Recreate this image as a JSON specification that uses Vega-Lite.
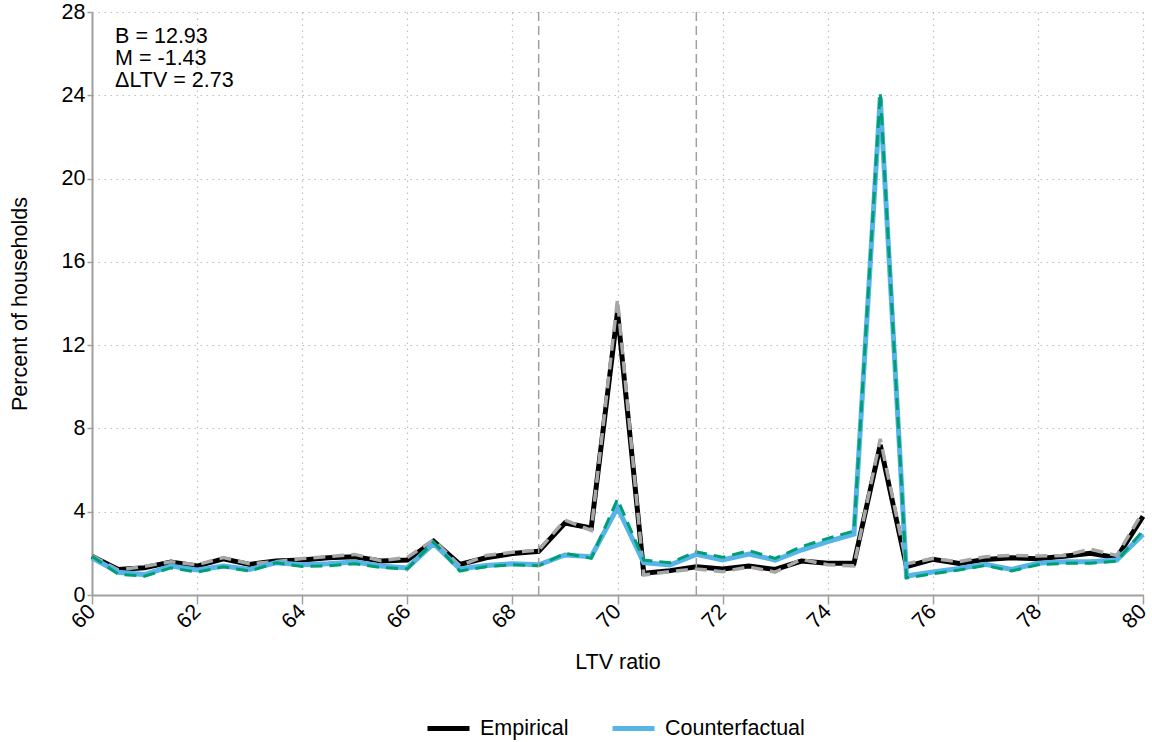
{
  "$schema": "https://vega.github.io/schema/vega-lite/v6.json",
  "autosize": {"type": "none"},
  "padding": {"left": 92, "top": 12, "right": 9, "bottom": 147},
  "width": 1051,
  "height": 583,
  "background": "white",
  "config": {
    "font": "Liberation Sans",
    "view": {"stroke": null},
    "axis": {
      "domainColor": "#A0A0A0",
      "domainWidth": 2,
      "tickColor": "#A0A0A0",
      "tickWidth": 1.5,
      "labelColor": "#000000",
      "titleColor": "#000000",
      "labelFontSize": 21.5,
      "titleFontSize": 21.5,
      "titleFontWeight": "normal",
      "labelFont": "Liberation Sans",
      "titleFont": "Liberation Sans",
      "gridColor": "#BDBDBD",
      "gridDash": [1.5, 4.5],
      "gridWidth": 1.2
    },
    "legend": {
      "labelFont": "Liberation Sans",
      "labelFontSize": 21.5,
      "labelColor": "#000000"
    }
  },
  "datasets": {
    "dist": [
      {"ltv": 60, "Empirical": 1.86, "EmpiricalAlt": 1.9, "Counterfactual": 1.79, "CounterfactualAlt": 1.86},
      {"ltv": 60.5, "Empirical": 1.23, "EmpiricalAlt": 1.2, "Counterfactual": 1.09, "CounterfactualAlt": 1.0},
      {"ltv": 61, "Empirical": 1.31, "EmpiricalAlt": 1.38, "Counterfactual": 0.98, "CounterfactualAlt": 0.9},
      {"ltv": 61.5, "Empirical": 1.58, "EmpiricalAlt": 1.6, "Counterfactual": 1.39, "CounterfactualAlt": 1.3},
      {"ltv": 62, "Empirical": 1.39, "EmpiricalAlt": 1.45, "Counterfactual": 1.2, "CounterfactualAlt": 1.1},
      {"ltv": 62.5, "Empirical": 1.74, "EmpiricalAlt": 1.8, "Counterfactual": 1.39, "CounterfactualAlt": 1.35},
      {"ltv": 63, "Empirical": 1.47, "EmpiricalAlt": 1.5, "Counterfactual": 1.23, "CounterfactualAlt": 1.15},
      {"ltv": 63.5, "Empirical": 1.63, "EmpiricalAlt": 1.6, "Counterfactual": 1.55, "CounterfactualAlt": 1.55},
      {"ltv": 64, "Empirical": 1.68, "EmpiricalAlt": 1.75, "Counterfactual": 1.45, "CounterfactualAlt": 1.37},
      {"ltv": 64.5, "Empirical": 1.79, "EmpiricalAlt": 1.85, "Counterfactual": 1.5, "CounterfactualAlt": 1.4},
      {"ltv": 65, "Empirical": 1.84, "EmpiricalAlt": 1.95, "Counterfactual": 1.58, "CounterfactualAlt": 1.5},
      {"ltv": 65.5, "Empirical": 1.63, "EmpiricalAlt": 1.65, "Counterfactual": 1.39, "CounterfactualAlt": 1.32},
      {"ltv": 66, "Empirical": 1.68, "EmpiricalAlt": 1.8, "Counterfactual": 1.3, "CounterfactualAlt": 1.25},
      {"ltv": 66.5, "Empirical": 2.58, "EmpiricalAlt": 2.65, "Counterfactual": 2.47, "CounterfactualAlt": 2.55},
      {"ltv": 67, "Empirical": 1.47, "EmpiricalAlt": 1.4, "Counterfactual": 1.25, "CounterfactualAlt": 1.15},
      {"ltv": 67.5, "Empirical": 1.79, "EmpiricalAlt": 1.9, "Counterfactual": 1.42, "CounterfactualAlt": 1.36},
      {"ltv": 68, "Empirical": 1.99, "EmpiricalAlt": 2.05, "Counterfactual": 1.5, "CounterfactualAlt": 1.45},
      {"ltv": 68.5, "Empirical": 2.1, "EmpiricalAlt": 2.15, "Counterfactual": 1.45, "CounterfactualAlt": 1.4},
      {"ltv": 69, "Empirical": 3.46, "EmpiricalAlt": 3.6, "Counterfactual": 1.92, "CounterfactualAlt": 2.0},
      {"ltv": 69.5, "Empirical": 3.22, "EmpiricalAlt": 3.1, "Counterfactual": 1.84, "CounterfactualAlt": 1.76},
      {"ltv": 70, "Empirical": 13.6, "EmpiricalAlt": 14.2, "Counterfactual": 4.2, "CounterfactualAlt": 4.6},
      {"ltv": 70.5, "Empirical": 1.04, "EmpiricalAlt": 0.96, "Counterfactual": 1.55, "CounterfactualAlt": 1.68},
      {"ltv": 71, "Empirical": 1.17, "EmpiricalAlt": 1.12, "Counterfactual": 1.44, "CounterfactualAlt": 1.55},
      {"ltv": 71.5, "Empirical": 1.36, "EmpiricalAlt": 1.25, "Counterfactual": 1.95, "CounterfactualAlt": 2.08},
      {"ltv": 72, "Empirical": 1.25, "EmpiricalAlt": 1.12, "Counterfactual": 1.68, "CounterfactualAlt": 1.81},
      {"ltv": 72.5, "Empirical": 1.39, "EmpiricalAlt": 1.35, "Counterfactual": 1.97, "CounterfactualAlt": 2.13},
      {"ltv": 73, "Empirical": 1.23, "EmpiricalAlt": 1.1, "Counterfactual": 1.68, "CounterfactualAlt": 1.76},
      {"ltv": 73.5, "Empirical": 1.63, "EmpiricalAlt": 1.71, "Counterfactual": 2.16, "CounterfactualAlt": 2.32},
      {"ltv": 74, "Empirical": 1.52, "EmpiricalAlt": 1.45, "Counterfactual": 2.56, "CounterfactualAlt": 2.72},
      {"ltv": 74.5, "Empirical": 1.52, "EmpiricalAlt": 1.4, "Counterfactual": 2.93, "CounterfactualAlt": 3.07},
      {"ltv": 75, "Empirical": 7.2, "EmpiricalAlt": 7.5, "Counterfactual": 23.9, "CounterfactualAlt": 24.15},
      {"ltv": 75.5, "Empirical": 1.36, "EmpiricalAlt": 1.5, "Counterfactual": 0.91, "CounterfactualAlt": 0.82},
      {"ltv": 76, "Empirical": 1.71, "EmpiricalAlt": 1.75, "Counterfactual": 1.1, "CounterfactualAlt": 1.02},
      {"ltv": 76.5, "Empirical": 1.52, "EmpiricalAlt": 1.6, "Counterfactual": 1.27, "CounterfactualAlt": 1.2},
      {"ltv": 77, "Empirical": 1.71, "EmpiricalAlt": 1.84, "Counterfactual": 1.47, "CounterfactualAlt": 1.42},
      {"ltv": 77.5, "Empirical": 1.79, "EmpiricalAlt": 1.9, "Counterfactual": 1.23, "CounterfactualAlt": 1.15},
      {"ltv": 78, "Empirical": 1.74, "EmpiricalAlt": 1.87, "Counterfactual": 1.52, "CounterfactualAlt": 1.45},
      {"ltv": 78.5, "Empirical": 1.86, "EmpiricalAlt": 1.9, "Counterfactual": 1.6, "CounterfactualAlt": 1.52},
      {"ltv": 79, "Empirical": 2.0, "EmpiricalAlt": 2.2, "Counterfactual": 1.6, "CounterfactualAlt": 1.52},
      {"ltv": 79.5, "Empirical": 1.79, "EmpiricalAlt": 1.9, "Counterfactual": 1.68, "CounterfactualAlt": 1.62},
      {"ltv": 80, "Empirical": 3.78, "EmpiricalAlt": 4.0, "Counterfactual": 2.91, "CounterfactualAlt": 3.1}
    ],
    "cutoffs": [{"ltv": 68.5}, {"ltv": 71.5}],
    "notes": [{"ltv": 60.44, "pct": 27.35, "label": "B = 12.93\nM = -1.43\nΔLTV = 2.73"}]
  },
  "layer": [
    {
      "data": {"name": "dist"},
      "mark": {"type": "line", "strokeWidth": 5},
      "encoding": {
        "x": {
          "field": "ltv", "type": "quantitative",
          "scale": {"domain": [60, 80], "nice": false, "zero": false},
          "axis": {
            "title": "LTV ratio",
            "values": [60, 62, 64, 66, 68, 70, 72, 74, 76, 78, 80],
            "labelAngle": -45,
            "labelAlign": "right",
            "labelBaseline": "middle",
            "tickSize": 9,
            "labelPadding": 4,
            "titlePadding": 19,
            "grid": true
          }
        },
        "y": {
          "field": "Empirical", "type": "quantitative",
          "scale": {"domain": [0, 28], "nice": false},
          "axis": {
            "title": "Percent of households",
            "values": [0, 4, 8, 12, 16, 20, 24, 28],
            "tickSize": 5,
            "labelPadding": 2,
            "titlePadding": 30,
            "grid": true
          }
        },
        "color": {
          "datum": "Empirical",
          "type": "nominal",
          "scale": {"domain": ["Empirical", "Counterfactual"], "range": ["#000000", "#56B4E9"]},
          "legend": {
            "title": null,
            "orient": "none",
            "direction": "horizontal",
            "legendX": 333,
            "legendY": 693,
            "symbolType": "stroke",
            "symbolSize": 1764,
            "symbolStrokeWidth": 5,
            "labelOffset": 8,
            "columnPadding": 33,
            "padding": 0
          }
        }
      }
    },
    {
      "data": {"name": "dist"},
      "mark": {"type": "line", "strokeWidth": 3.5, "color": "#A6A6A6", "strokeDash": [12, 7]},
      "encoding": {
        "x": {"field": "ltv", "type": "quantitative"},
        "y": {"field": "EmpiricalAlt", "type": "quantitative"}
      }
    },
    {
      "data": {"name": "dist"},
      "mark": {"type": "line", "strokeWidth": 5},
      "encoding": {
        "x": {"field": "ltv", "type": "quantitative"},
        "y": {"field": "Counterfactual", "type": "quantitative"},
        "color": {"datum": "Counterfactual", "type": "nominal"}
      }
    },
    {
      "data": {"name": "dist"},
      "mark": {"type": "line", "strokeWidth": 3, "color": "#009E73", "strokeDash": [12, 7]},
      "encoding": {
        "x": {"field": "ltv", "type": "quantitative"},
        "y": {"field": "CounterfactualAlt", "type": "quantitative"}
      }
    },
    {
      "data": {"name": "cutoffs"},
      "mark": {"type": "rule", "color": "#A0A0A0", "strokeWidth": 1.5, "strokeDash": [9, 5]},
      "encoding": {
        "x": {"field": "ltv", "type": "quantitative"}
      }
    },
    {
      "data": {"name": "notes"},
      "mark": {"type": "text", "align": "left", "baseline": "top", "fontSize": 21.5, "lineHeight": 22, "lineBreak": "\n", "color": "#000000", "font": "Liberation Sans"},
      "encoding": {
        "x": {"field": "ltv", "type": "quantitative"},
        "y": {"field": "pct", "type": "quantitative"},
        "text": {"field": "label"}
      }
    }
  ]
}
